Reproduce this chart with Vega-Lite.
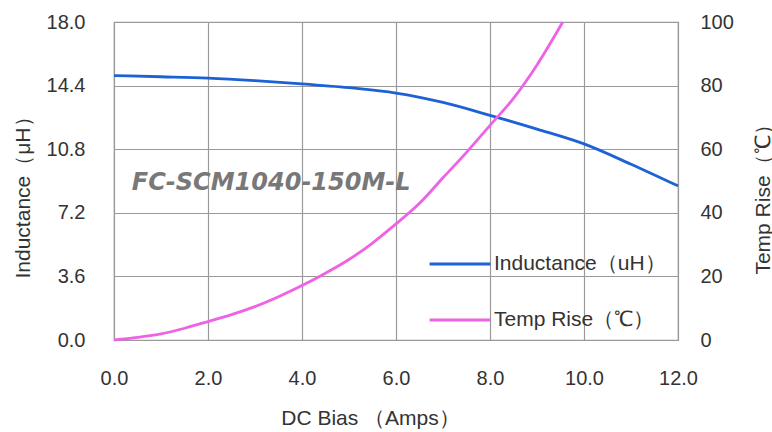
{
  "$schema": "https://vega.github.io/schema/vega-lite/v6.json",
  "width": 564,
  "height": 318,
  "autosize": {"type": "none"},
  "padding": {"left": 114, "top": 22, "right": 94, "bottom": 92},
  "background": "white",
  "config": {
    "view": {"stroke": "#9a9a9a", "strokeWidth": 1.2},
    "font": "Liberation Sans",
    "axis": {
      "labelFont": "Liberation Sans",
      "labelFontSize": 20,
      "labelColor": "#333333",
      "labelFlush": false,
      "titleFont": "Liberation Sans",
      "titleFontSize": 21,
      "titleFontWeight": "normal",
      "titleColor": "#333333",
      "ticks": false,
      "domain": false,
      "gridColor": "#9a9a9a",
      "gridWidth": 1.2,
      "gridOpacity": 1
    }
  },
  "datasets": {
    "curves": [
      {"series": "L", "current": 0, "value": 14.97},
      {"series": "L", "current": 1, "value": 14.9},
      {"series": "L", "current": 2, "value": 14.82},
      {"series": "L", "current": 3, "value": 14.68},
      {"series": "L", "current": 4, "value": 14.5},
      {"series": "L", "current": 5, "value": 14.28},
      {"series": "L", "current": 6, "value": 13.98},
      {"series": "L", "current": 7, "value": 13.45},
      {"series": "L", "current": 8, "value": 12.72},
      {"series": "L", "current": 9, "value": 11.94},
      {"series": "L", "current": 10, "value": 11.1},
      {"series": "L", "current": 11, "value": 9.95},
      {"series": "L", "current": 12, "value": 8.72},
      {"series": "T", "current": 0, "value": 0},
      {"series": "T", "current": 0.5, "value": 0.8},
      {"series": "T", "current": 1, "value": 1.9},
      {"series": "T", "current": 1.5, "value": 3.7},
      {"series": "T", "current": 2, "value": 5.8},
      {"series": "T", "current": 2.5, "value": 8},
      {"series": "T", "current": 3, "value": 10.5},
      {"series": "T", "current": 3.5, "value": 13.6},
      {"series": "T", "current": 4, "value": 17.1},
      {"series": "T", "current": 4.5, "value": 21},
      {"series": "T", "current": 5, "value": 25.3},
      {"series": "T", "current": 5.5, "value": 30.5},
      {"series": "T", "current": 6, "value": 36.5},
      {"series": "T", "current": 6.5, "value": 43},
      {"series": "T", "current": 7, "value": 51},
      {"series": "T", "current": 7.5, "value": 59},
      {"series": "T", "current": 8, "value": 67.5},
      {"series": "T", "current": 8.5, "value": 76},
      {"series": "T", "current": 9, "value": 86.5},
      {"series": "T", "current": 9.55, "value": 100}
    ],
    "label": [
      {"current": 0.38, "value": 8.87, "text": "FC-SCM1040-150M-L"}
    ]
  },
  "layer": [
    {
      "data": {"name": "curves"},
      "transform": [{"filter": "datum.series === 'L'"}],
      "mark": {"type": "line", "strokeWidth": 2.8, "interpolate": "monotone"},
      "encoding": {
        "x": {
          "field": "current", "type": "quantitative",
          "scale": {"domain": [0, 12], "nice": false, "zero": false},
          "axis": {
            "values": [0, 2, 4, 6, 8, 10, 12], "format": ".1f",
            "grid": true, "labelPadding": 28,
            "title": "DC Bias （Amps）",
            "titleX": 256, "titleY": 78, "titleBaseline": "middle", "titleAlign": "center"
          }
        },
        "y": {
          "field": "value", "type": "quantitative",
          "scale": {"domain": [0, 18], "nice": false},
          "axis": {
            "orient": "left",
            "values": [0, 3.6, 7.2, 10.8, 14.4, 18], "format": ".1f",
            "grid": true, "labelPadding": 29,
            "title": "Inductance（μH）",
            "titleX": -91, "titleY": 170, "titleAngle": 270,
            "titleBaseline": "middle", "titleAlign": "center"
          }
        },
        "color": {
          "datum": "Inductance（uH）",
          "type": "nominal",
          "scale": {
            "domain": ["Inductance（uH）", "Temp Rise（℃）"],
            "range": ["#1c62d6", "#ee62e6"]
          },
          "legend": {
            "title": null,
            "orient": "none",
            "legendX": 314,
            "legendY": 210,
            "symbolType": "stroke",
            "symbolSize": 3700,
            "symbolStrokeWidth": 2.8,
            "labelFont": "Liberation Sans",
            "labelFontSize": 21,
            "labelColor": "#333333",
            "labelOffset": 2,
            "labelLimit": 400,
            "rowPadding": 14
          }
        }
      }
    },
    {
      "data": {"name": "curves"},
      "transform": [{"filter": "datum.series === 'T'"}],
      "mark": {"type": "line", "strokeWidth": 2.8, "interpolate": "monotone"},
      "encoding": {
        "x": {"field": "current", "type": "quantitative"},
        "y": {
          "field": "value", "type": "quantitative",
          "scale": {"domain": [0, 100], "nice": false},
          "axis": {
            "orient": "right",
            "values": [0, 20, 40, 60, 80, 100],
            "grid": false, "labelPadding": 22,
            "title": "Temp Rise（℃）",
            "titleX": 85, "titleY": 172, "titleAngle": 270,
            "titleBaseline": "middle", "titleAlign": "center"
          }
        },
        "color": {"datum": "Temp Rise（℃）", "type": "nominal"}
      }
    },
    {
      "data": {"name": "label"},
      "mark": {
        "type": "text", "align": "left", "baseline": "middle",
        "font": "DejaVu Sans", "fontStyle": "italic", "fontWeight": "bold",
        "fontSize": 24, "color": "#787878"
      },
      "encoding": {
        "x": {"field": "current", "type": "quantitative"},
        "y": {"field": "value", "type": "quantitative", "scale": {"domain": [0, 18], "nice": false}, "axis": null},
        "text": {"field": "text"}
      }
    }
  ],
  "resolve": {"scale": {"y": "independent"}}
}
